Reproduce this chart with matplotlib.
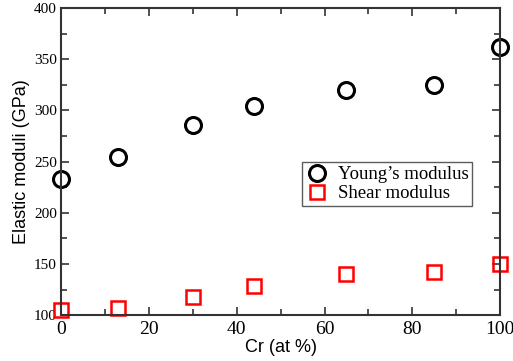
import matplotlib
matplotlib.use("Agg")
import matplotlib.pyplot as plt
from matplotlib.ticker import MultipleLocator

# DATA
cr = [0, 13, 30, 44, 65, 85, 100]
youngs = [233, 254, 286, 304, 320, 325, 362]
shear = [105, 107, 118, 128, 140, 142, 150]

fig = plt.figure(figsize=(5.13, 3.61), dpi=100)
ax = fig.add_axes([0.119, 0.127, 0.856, 0.851])

ax.plot(cr, youngs, linestyle="none", marker="o", markersize=11.5,
        markerfacecolor="none", markeredgecolor="black", markeredgewidth=2.2,
        label="Young\u2019s modulus", clip_on=False)
ax.plot(cr, shear, linestyle="none", marker="s", markersize=10,
        markerfacecolor="none", markeredgecolor="red", markeredgewidth=1.8,
        label="Shear modulus", clip_on=False)

ax.set_xlim(0, 100)
ax.set_ylim(100, 400)
ax.xaxis.set_major_locator(MultipleLocator(20))
ax.xaxis.set_minor_locator(MultipleLocator(10))
ax.yaxis.set_major_locator(MultipleLocator(50))
ax.yaxis.set_minor_locator(MultipleLocator(25))
ax.tick_params(which="both", direction="in", top=True, right=True, width=1.2, colors="#333333")
ax.tick_params(which="major", length=6)
ax.tick_params(which="minor", length=4)
ax.tick_params(axis="x", labelcolor="black", pad=4)
ax.tick_params(axis="y", labelcolor="black", pad=3)
for s in ax.spines.values():
    s.set_linewidth(1.5)
    s.set_color("#333333")

for lab in ax.get_xticklabels() + ax.get_yticklabels():
    lab.set_family("Liberation Serif")
for lab in ax.get_xticklabels():
    lab.set_fontsize(14)
for lab in ax.get_yticklabels():
    lab.set_fontsize(11)

ax.set_xlabel("Cr (at %)", family="Liberation Sans", fontsize=13, labelpad=1)
ax.set_ylabel("Elastic moduli (GPa)", family="Liberation Sans", fontsize=13, labelpad=3)

leg = ax.legend(loc="lower left", bbox_to_anchor=(0.549, 0.355),
                prop={"family": "Liberation Serif", "size": 13.5},
                frameon=True, fancybox=False, borderpad=0.2, handletextpad=0.5,
                handlelength=1.2, labelspacing=0.1, borderaxespad=0)
leg.get_frame().set_edgecolor("#333333")
leg.get_frame().set_linewidth(1.0)

fig.savefig("out.png", dpi=100)
